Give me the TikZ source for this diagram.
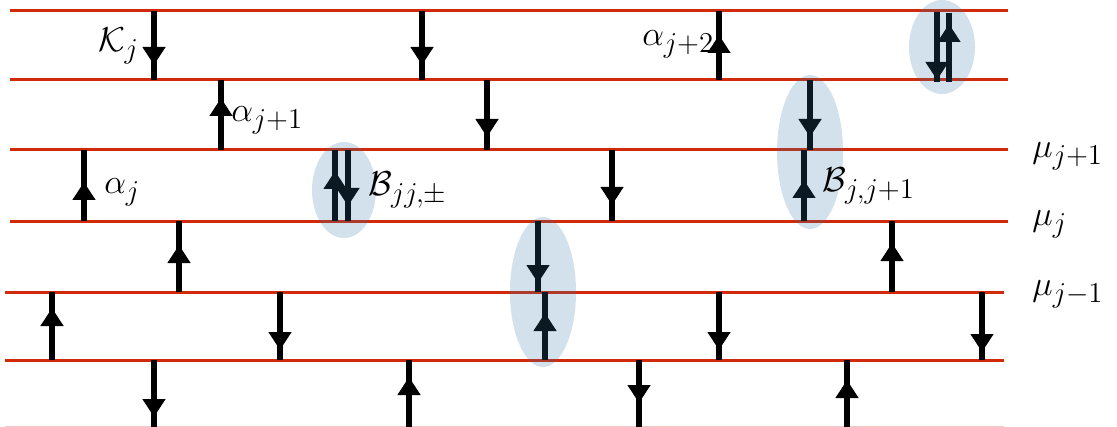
\documentclass[tikz,border=0pt]{standalone}
\usepackage{amsmath}
\usetikzlibrary{arrows.meta, positioning}
\definecolor{levelred}{HTML}{D12A0B}
\definecolor{pairblue}{HTML}{3476A2}
\definecolor{spinink}{HTML}{000000}
\tikzset{
  level/.style    = {draw=levelred, line width=1.5pt},
  spin/.style     = {draw=spinink, line width=2.8pt},
  spintip/.style  = {-{Triangle[width=11pt, length=9pt]}, draw=spinink, line width=2.8pt},
  pair/.style     = {fill=pairblue, fill opacity=0.22, draw=none},
  lbl/.style      = {font=\fontsize{19}{23}\selectfont, inner sep=0pt, anchor=west},
}

\begin{document}
\begin{tikzpicture}[x=0.5pt, y=-0.5pt]
  \useasboundingbox (0,0) rectangle (1117,427);

  % energy levels
  \foreach \y/\xa/\xb [count=\i] in {11/10/1008, 80/10/1008, 150/10/1008, 221/10/1008,
                                   292/5/1004, 360/5/1004}
    \draw[level] (\xa,\y) coordinate (L\i w) -- (\xb,\y) coordinate (L\i e);
  \draw[level, draw=levelred!25] (5,427) coordinate (L7w) -- (1004,427) coordinate (L7e);

  % spins: x / tail / head / tip
  \foreach \x/\ya/\yb/\yt in {154/11/80/65, 422/11/80/65, 719/80/11/35,
                              937/12/82/80, 949/82/13/24,
                              221/150/80/98, 487/80/150/137, 810/80/150/137,
                              84/221/150/182, 335/221/150/171, 348/150/221/206,
                              612/150/221/205, 804/221/150/180,
                              179/292/221/245, 538/221/292/283, 892/292/221/243,
                              52/360/292/308, 280/292/360/350, 545/360/292/313,
                              719/292/360/350, 982/292/360/352,
                              154/360/427/417, 409/427/360/377, 639/360/427/403,
                              847/427/360/380}
  {
    \coordinate (s) at (\x,\ya);
    \coordinate (e) at (\x,\yb);
    \coordinate (t) at (\x,\yt);
    \draw[spin] (s) -- (e);
    \draw[spintip] (s) -- (t);
  }

  % bound pairs
  \fill[pair] (942,47)  ellipse [x radius=16.5pt, y radius=23.5pt];
  \fill[pair] (810,152) ellipse [x radius=16.5pt, y radius=38.5pt];
  \fill[pair] (344,190) ellipse [x radius=16pt,   y radius=24pt];
  \fill[pair] (543,292) ellipse [x radius=16.5pt, y radius=37.5pt];

  % labels
  \node[lbl] (kj)    at (98,46)   {$\mathcal{K}_j$};
  \node[lbl] (aj1)   at (231,120) {$\alpha_{j+1}$};
  \node[lbl] (aj)    at (104,192) {$\alpha_j$};
  \node[lbl] (aj2)   at (642,44)  {$\alpha_{j+2}$};
  \node[lbl] (bjj)   at (368,190) {$\mathcal{B}_{jj,\pm}$};
  \node[lbl] (bjj1)  at (822,186) {$\mathcal{B}_{j,j+1}$};
  \node[lbl] (muj1)  at (1032,156) {$\mu_{j+1}$};
  \node[lbl] (muj)   at (1032,224) {$\mu_j$};
  \node[lbl] (mujm)  at (1032,294) {$\mu_{j-1}$};
\end{tikzpicture}
\end{document}
